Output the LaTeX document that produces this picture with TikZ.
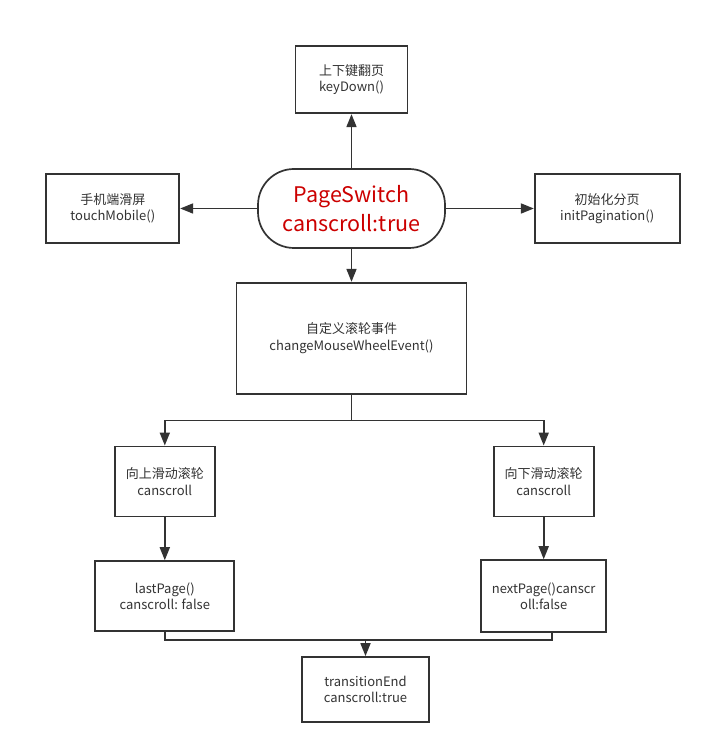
\documentclass[tikz,border=0pt]{standalone}
\usepackage{fontspec}
\setmainfont{Noto Sans CJK SC}
\usetikzlibrary{positioning,arrows.meta}
\definecolor{ink}{HTML}{333333}
\definecolor{titlered}{HTML}{CC0000}
\begin{document}
\begin{tikzpicture}[x=1pt,y=1pt,
	box/.style={rectangle,draw=ink,line width=1.7pt,fill=white,text=ink,align=center,inner sep=0pt,
		font=\fontsize{13}{16.5}\selectfont},
	start/.style={rectangle,rounded corners=36pt,draw=ink,line width=1.7pt,fill=white,text=titlered,align=center,
		inner sep=0pt,minimum width=187pt,minimum height=79pt,font=\fontsize{21.5}{29}\selectfont},
	link/.style={draw=ink,line width=1.7pt},
	arr/.style={link,-{Triangle[length=13pt,width=10pt]}}]
		\fill[white] (0,0) rectangle (710,754);
		\useasboundingbox (0,0) rectangle (710,754);
		\node[start] (ps) at (351.5,545.5) {PageSwitch\\canscroll:true};
		\node[box,minimum width=112pt,minimum height=67pt] (key) [above = 54pt of ps] {上下键翻页\\keyDown()};
		\node[box,minimum width=133pt,minimum height=69pt] (touch) [left = 77pt of ps] {手机端滑屏\\touchMobile()};
		\node[box,minimum width=145pt,minimum height=69pt] (init) [right = 88pt of ps] {初始化分页\\initPagination()};
		\node[box,minimum width=230pt,minimum height=111pt] (wheel) [below = 33pt of ps] {自定义滚轮事件\\changeMouseWheelEvent()};
		\node[box,minimum width=100pt,minimum height=70pt] (up) [below left = 51pt and 20pt of wheel] {向上滑动滚轮\\canscroll};
		\node[box,minimum width=100pt,minimum height=70pt] (down) [below right = 51pt and 25.5pt of wheel] {向下滑动滚轮\\canscroll};
		\node[box,minimum width=139pt,minimum height=70pt] (last) [below = 43pt of up] {lastPage()\\canscroll: false};
		\node[box,minimum width=125pt,minimum height=72pt] (next) [below = 42pt of down] {nextPage()canscr\\oll:false};
		\node[box,minimum width=127pt,minimum height=65pt] (trans) at (365.5,64.5) {transitionEnd\\canscroll:true};
		\coordinate[below = 26pt of wheel] (split);
		\coordinate[above = 16pt of trans] (merge);
		\draw[arr] (ps.north) -- (key.south);
		\draw[arr] (ps.west) -- (touch.east);
		\draw[arr] (ps.east) -- (init.west);
		\draw[arr] (ps.south) -- (wheel.north);
		\draw[link] (wheel.south) -- (split);
		\draw[arr] (split) -| (up.north);
		\draw[arr] (split) -| (down.north);
		\draw[arr] (up.south) -- (last.north);
		\draw[arr] (down.south) -- (next.north);
		\draw[link] (last.south) |- (merge) -| ([xshift=8.5pt]next.south);
		\draw[arr] (merge) -- (trans.north);
	\end{tikzpicture}
\end{document}
